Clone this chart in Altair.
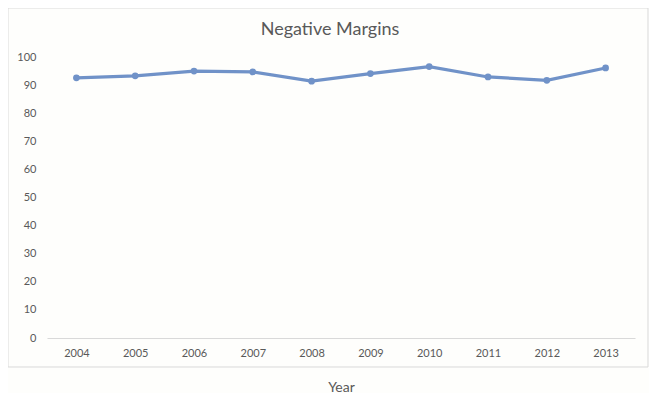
import altair as alt
import pandas as pd

years = ["2004", "2005", "2006", "2007", "2008", "2009", "2010", "2011", "2012", "2013"]
values = [92.6, 93.3, 95.0, 94.7, 91.4, 94.1, 96.6, 92.9, 91.7, 96.1]
y_ticks = [0, 10, 20, 30, 40, 50, 60, 70, 80, 90, 100]
chart_title = "Negative Margins"

df = pd.DataFrame({"Year": years, "Value": values})

LINE = "#7092c8"
TXT = "#595959"
FONT = "Lato"

x_enc = alt.X(
    "Year:O",
    title="Year",
    scale=alt.Scale(type="point", padding=0.5),
    axis=alt.Axis(
        labelAngle=0,
        labelFontSize=11,
        labelColor=TXT,
        labelFont=FONT,
        labelPadding=9,
        ticks=False,
        domainColor="#d9d9d9",
        domainWidth=1,
        titleFontSize=14,
        titleFont=FONT,
        titleFontWeight="normal",
        titleColor=TXT,
        titlePadding=22,
        grid=False,
    ),
)
y_enc = alt.Y(
    "Value:Q",
    title=None,
    scale=alt.Scale(domain=[0, 100], nice=False),
    axis=alt.Axis(
        values=y_ticks,
        labelFontSize=11,
        labelColor=TXT,
        labelFont=FONT,
        labelPadding=11,
        ticks=False,
        domain=False,
        grid=False,
    ),
)

frame = alt.Chart(pd.DataFrame({"a": [0]})).mark_rect(
    fill=None, stroke="#d9d9d9", strokeWidth=1
).encode(
    x=alt.value(-39), x2=alt.value(601), y=alt.value(-49), y2=alt.value(310)
)

title_mark = alt.Chart(pd.DataFrame({"t": [chart_title]})).mark_text(
    fontSize=18, font=FONT, color=TXT, align="center", baseline="middle"
).encode(text="t:N", x=alt.value(283), y=alt.value(-27))

line = alt.Chart(df).mark_line(color=LINE, strokeWidth=3.2).encode(x=x_enc, y=y_enc)
pts = alt.Chart(df).mark_point(filled=True, color=LINE, size=45, opacity=1).encode(x=x_enc, y=y_enc)

chart = alt.layer(frame, title_mark, line, pts).properties(
    width=588,
    height=281,
    autosize=alt.AutoSizeParams(type="none"),
    padding={"left": 39, "top": 49, "right": 14, "bottom": 55},
    background="#fefefc",
).configure_view(stroke=None)

chart.save("out.html", embed_options={"renderer": "svg", "actions": False})
